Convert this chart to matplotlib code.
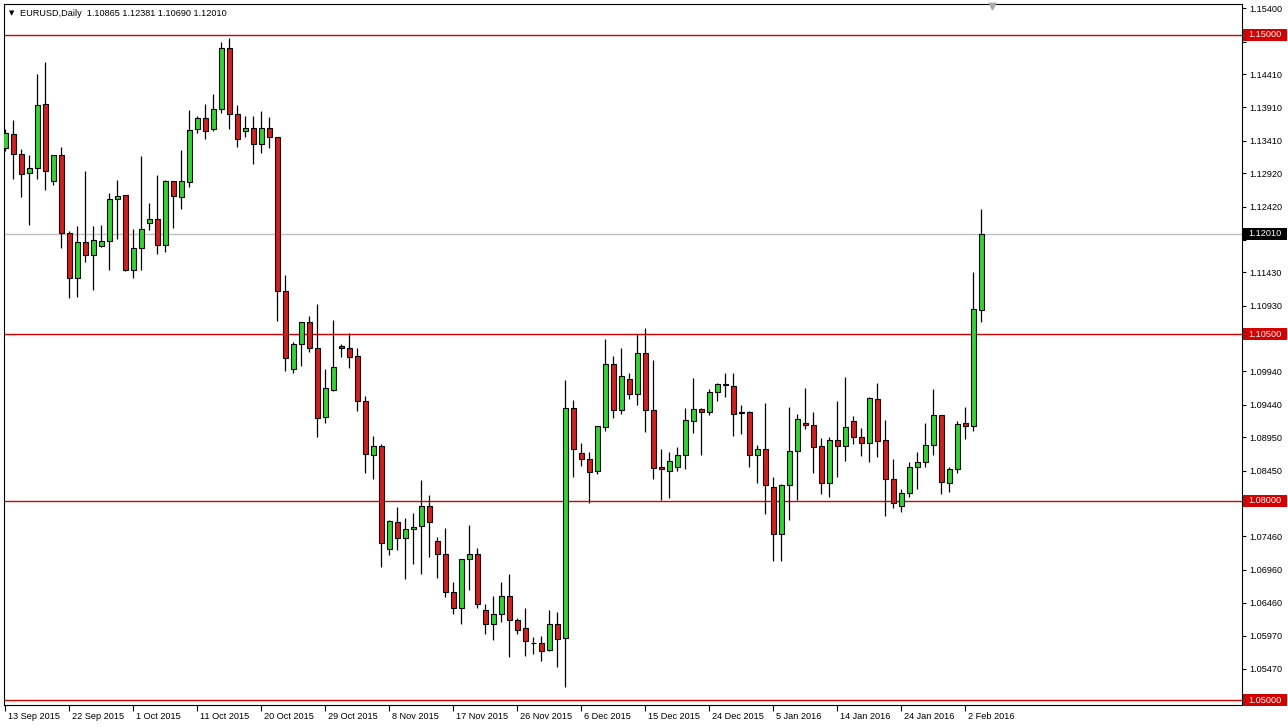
import matplotlib
matplotlib.use('Agg')
import matplotlib.pyplot as plt
import matplotlib.transforms as mtransforms
from matplotlib.patches import Rectangle

plt.rcParams['font.family'] = ['Liberation Sans', 'DejaVu Sans']

# daily EURUSD candles, 13 Sep 2015 .. 4 Feb 2016
opens = [1.1330, 1.1351, 1.1321, 1.1292, 1.1300, 1.1396, 1.1280, 1.1319, 1.1202, 1.1134,
         1.1189, 1.1169, 1.1182, 1.1190, 1.1254, 1.1260, 1.1146, 1.1179, 1.1218, 1.1224,
         1.1184, 1.1280, 1.1256, 1.1279, 1.1359, 1.1375, 1.1358, 1.1388, 1.1480, 1.1381,
         1.1356, 1.1360, 1.1336, 1.1360, 1.1346, 1.1115, 1.0997, 1.1036, 1.1068, 1.1030,
         1.0925, 1.0966, 1.1032, 1.1029, 1.1017, 1.0949, 1.0869, 1.0882, 1.0727, 1.0767,
         1.0743, 1.0757, 1.0761, 1.0791, 1.0739, 1.0719, 1.0662, 1.0639, 1.0712, 1.0719,
         1.0636, 1.0614, 1.0629, 1.0656, 1.0621, 1.0608, 1.0586, 1.0585, 1.0575, 1.0614,
         1.0593, 1.0939, 1.0871, 1.0862, 1.0845, 1.0910, 1.1005, 1.0936, 1.0982, 1.0960,
         1.1022, 1.0936, 1.0850, 1.0845, 1.0851, 1.0869, 1.0919, 1.0937, 1.0933, 1.0963,
         1.0975, 1.0972, 1.0933, 1.0933, 1.0869, 1.0878, 1.0821, 1.0749, 1.0823, 1.0874,
         1.0917, 1.0913, 1.0882, 1.0827, 1.0891, 1.0882, 1.0920, 1.0895, 1.0887, 1.0952,
         1.0891, 1.0833, 1.0792, 1.0811, 1.0851, 1.0858, 1.0883, 1.0928, 1.0827, 1.0848,
         1.0916, 1.0912, 1.10865]
highs = [1.1358, 1.1372, 1.1329, 1.1320, 1.1442, 1.1460, 1.1319, 1.1331, 1.1206, 1.1213,
         1.1295, 1.1213, 1.1215, 1.1263, 1.1282, 1.1260, 1.1208, 1.1318, 1.1248, 1.1289,
         1.1282, 1.1280, 1.1327, 1.1387, 1.1378, 1.1396, 1.1411, 1.1489, 1.1495, 1.1394,
         1.1378, 1.1378, 1.1386, 1.1377, 1.1347, 1.1139, 1.1039, 1.1069, 1.1077, 1.1095,
         1.0997, 1.1072, 1.1036, 1.1052, 1.1029, 1.0957, 1.0897, 1.0885, 1.0771, 1.0790,
         1.0774, 1.0781, 1.0831, 1.0808, 1.0745, 1.0758, 1.0678, 1.0712, 1.0763, 1.0728,
         1.0645, 1.0656, 1.0678, 1.0690, 1.0623, 1.0638, 1.0595, 1.0596, 1.0636, 1.0632,
         1.0981, 1.0951, 1.0886, 1.0873, 1.0912, 1.1043, 1.1017, 1.1030, 1.0991, 1.1050,
         1.1060, 1.1011, 1.0877, 1.0873, 1.0881, 1.0939, 1.0984, 1.0939, 1.0967, 1.0977,
         1.0991, 1.0991, 1.0944, 1.0934, 1.0883, 1.0947, 1.0836, 1.0825, 1.0940, 1.0930,
         1.0969, 1.0933, 1.0894, 1.0896, 1.0950, 1.0985, 1.0927, 1.0909, 1.0956, 1.0977,
         1.0921, 1.0863, 1.0817, 1.0858, 1.0873, 1.0917, 1.0967, 1.0929, 1.0851, 1.0920,
         1.0940, 1.1144, 1.12381]
lows = [1.1325, 1.1283, 1.1257, 1.1214, 1.1283, 1.1267, 1.1275, 1.1179, 1.1104, 1.1106,
        1.1158, 1.1116, 1.1181, 1.1146, 1.1193, 1.1145, 1.1134, 1.1146, 1.1207, 1.1171,
        1.1173, 1.1210, 1.1238, 1.1271, 1.1352, 1.1343, 1.1355, 1.1382, 1.1358, 1.1332,
        1.1346, 1.1306, 1.1323, 1.1330, 1.1070, 1.0995, 1.0991, 1.1002, 1.1024, 1.0896,
        1.0916, 1.0964, 1.1016, 1.1000, 1.0935, 1.0842, 1.0833, 1.0700, 1.0718, 1.0726,
        1.0682, 1.0705, 1.0690, 1.0715, 1.0683, 1.0655, 1.0629, 1.0615, 1.0665, 1.0639,
        1.0599, 1.0590, 1.0618, 1.0565, 1.0599, 1.0566, 1.0569, 1.0558, 1.0574, 1.0550,
        1.0519, 1.0835, 1.0852, 1.0796, 1.0840, 1.0905, 1.0924, 1.0930, 1.0953, 1.0944,
        1.0903, 1.0832, 1.0801, 1.0804, 1.0845, 1.0847, 1.0901, 1.0868, 1.0928, 1.0949,
        1.0955, 1.0897, 1.0900, 1.0851, 1.0826, 1.0780, 1.0709, 1.0709, 1.0770, 1.0801,
        1.0907, 1.0841, 1.0810, 1.0805, 1.0835, 1.0859, 1.0885, 1.0867, 1.0858, 1.0866,
        1.0776, 1.0788, 1.0783, 1.0806, 1.0818, 1.0851, 1.0868, 1.0810, 1.0813, 1.0841,
        1.0892, 1.0905, 1.10690]
closes = [1.1352, 1.1321, 1.1291, 1.1300, 1.1395, 1.1295, 1.1319, 1.1202, 1.1134, 1.1189,
          1.1169, 1.1191, 1.1190, 1.1254, 1.1258, 1.1146, 1.1180, 1.1208, 1.1224, 1.1184,
          1.1280, 1.1258, 1.1280, 1.1357, 1.1375, 1.1356, 1.1388, 1.1480, 1.1381, 1.1343,
          1.1360, 1.1336, 1.1360, 1.1347, 1.1115, 1.1015, 1.1036, 1.1068, 1.1030, 1.0924,
          1.0969, 1.1001, 1.1029, 1.1016, 1.0949, 1.0870, 1.0882, 1.0736, 1.0769, 1.0743,
          1.0757, 1.0760, 1.0791, 1.0767, 1.0719, 1.0662, 1.0639, 1.0712, 1.0720, 1.0644,
          1.0614, 1.0629, 1.0656, 1.0620, 1.0606, 1.0588, 1.0585, 1.0573, 1.0614, 1.0591,
          1.0939, 1.0877, 1.0862, 1.0843, 1.0912, 1.1005, 1.0936, 1.0987, 1.0960, 1.1022,
          1.0936, 1.0849, 1.0847, 1.0860, 1.0869, 1.0921, 1.0937, 1.0933, 1.0963, 1.0975,
          1.0974, 1.0930, 1.0931, 1.0869, 1.0878, 1.0823, 1.0749, 1.0823, 1.0874, 1.0922,
          1.0914, 1.0881, 1.0827, 1.0891, 1.0882, 1.0910, 1.0895, 1.0887, 1.0954, 1.0890,
          1.0833, 1.0797, 1.0811, 1.0851, 1.0858, 1.0883, 1.0928, 1.0828, 1.0847, 1.0915,
          1.0912, 1.1088, 1.12010]

date_labels = ['13 Sep 2015', '22 Sep 2015', '1 Oct 2015', '11 Oct 2015', '20 Oct 2015',
               '29 Oct 2015', '8 Nov 2015', '17 Nov 2015', '26 Nov 2015', '6 Dec 2015',
               '15 Dec 2015', '24 Dec 2015', '5 Jan 2016', '14 Jan 2016', '24 Jan 2016',
               '2 Feb 2016']
label_bars = [0, 8, 16, 24, 32, 40, 48, 56, 64, 72, 80, 88, 96, 104, 112, 120]
price_ticks = [1.15400, 1.14900, 1.14410, 1.13910, 1.13410, 1.12920, 1.12420, 1.11920,
               1.11430, 1.10930, 1.10440, 1.09940, 1.09440, 1.08950, 1.08450, 1.07950,
               1.07460, 1.06960, 1.06460, 1.05970, 1.05470]
# these grid labels sit under the coloured tags on the axis
hidden_ticks = [1.14900, 1.11920, 1.10440, 1.07950]
levels = [1.15000, 1.10500, 1.08000, 1.05000]
bid = closes[-1]

bull = '#2bd82b'
bear = '#dc1c1c'
level_red = '#d60000'

fig = plt.figure(figsize=(12.88, 7.27), dpi=100)
ax = fig.add_axes([4 / 1288, 22 / 727, 1238 / 1288, 701 / 727])
ax.set_xlim(-0.16, 154.6)
ax.set_ylim(1.04925, 1.15466)

# horizontal levels and bid line
for lv in levels:
    ax.axhline(lv, color=level_red, lw=1, zorder=1)
ax.axhline(bid, color='#c0c0c0', lw=1, zorder=1)

# candles
x = list(range(len(opens)))
ax.vlines(x, lows, highs, color='black', lw=0.9, zorder=2)
bottoms = [min(o, c) for o, c in zip(opens, closes)]
heights = [abs(c - o) for o, c in zip(opens, closes)]
colors = [bull if c >= o else bear for o, c in zip(opens, closes)]
ax.bar(x, heights, bottom=bottoms, width=0.6, color=colors, edgecolor='black',
       linewidth=0.8, zorder=3)

# price axis on the right
ax.yaxis.tick_right()
ax.set_yticks(price_ticks)
ax.set_yticklabels(['' if p in hidden_ticks else f'{p:.5f}' for p in price_ticks])
ax.tick_params(axis='y', direction='out', length=3, width=0.8, labelsize=6.6, pad=2)

# time axis
ax.set_xticks(label_bars)
ax.set_xticklabels(date_labels, ha='left')
ax.tick_params(axis='x', direction='out', length=4, width=0.8, labelsize=6.6, pad=1)
shift = mtransforms.ScaledTranslation(3 / 100, 0, fig.dpi_scale_trans)
for lab in ax.get_xticklabels():
    lab.set_transform(lab.get_transform() + shift)

for sp in ax.spines.values():
    sp.set_linewidth(0.8)
    sp.set_color('black')

# coloured price tags on the axis
trans = mtransforms.blended_transform_factory(ax.transAxes, ax.transData)
box_w = 44 / 1238
box_h = 12 / 6650
tags = [(lv, level_red) for lv in levels] + [(bid, 'black')]
for val, col in tags:
    ax.add_patch(Rectangle((1.0008, val - box_h / 2), box_w, box_h, transform=trans,
                           facecolor=col, edgecolor='none', clip_on=False, zorder=6))
    ax.text(1 + 6 / 1238, val, f'{val:.5f}', transform=trans, color='white',
            fontsize=6.6, ha='left', va='center', clip_on=False, zorder=7)

# header
fig.text(9 / 1288, 1 - 13 / 727, '\u25bc', fontsize=5, family='DejaVu Sans',
         va='center', ha='left')
header = f'EURUSD,Daily  {opens[-1]:.5f} {highs[-1]:.5f} {lows[-1]:.5f} {closes[-1]:.5f}'
fig.text(20 / 1288, 1 - 13 / 727, header, fontsize=6.6, va='center', ha='left')

# chart shift marker
ax.scatter([0.798], [0.997], marker='v', s=22, color='#a8a8a8', transform=ax.transAxes,
           clip_on=False, zorder=6)

fig.savefig('out.png', dpi=100, facecolor='white')
